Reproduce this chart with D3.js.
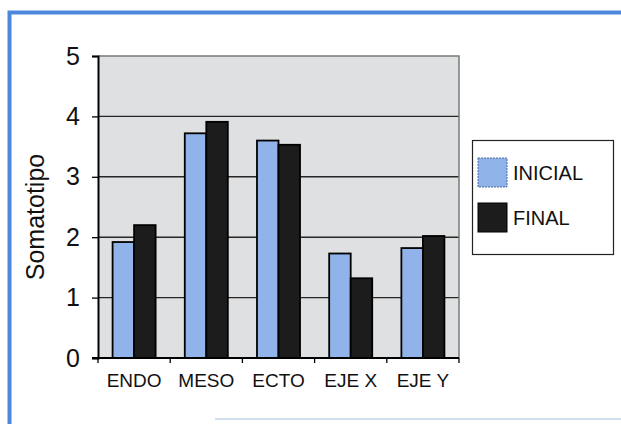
<!DOCTYPE html>
<html>
<head>
<meta charset="utf-8">
<script src="https://cdn.jsdelivr.net/npm/d3@7/dist/d3.min.js"></script>
<style>
  html, body { margin: 0; padding: 0; background: #ffffff; }
  svg { display: block; }
  text { font-family: "Liberation Sans", Arial, sans-serif; fill: #111; }
</style>
</head>
<body>
<script>
// Somatotype components, before and after
const categories = ["ENDO", "MESO", "ECTO", "EJE X", "EJE Y"];
const seriesNames = ["INICIAL", "FINAL"];
const inicial = [1.92, 3.72, 3.60, 1.73, 1.82];
const final = [2.20, 3.91, 3.53, 1.32, 2.02];
const yTicks = [0, 1, 2, 3, 4, 5];
const yTitle = "Somatotipo";

const W = 621, H = 424;
const plot = { left: 98, right: 459, top: 56, bottom: 358 };
const colors = { INICIAL: "#90b3ea", FINAL: "#1c1c1c" };

const svg = d3.select("body").append("svg")
  .attr("width", W).attr("height", H);

// outer frame
svg.append("rect").attr("width", W).attr("height", H).attr("fill", "#ffffff");
svg.append("path")
  .attr("d", `M9.5,${H} L9.5,12.5 L${W},12.5`)
  .attr("fill", "none").attr("stroke", "#4d87dc").attr("stroke-width", 4);
svg.append("line")
  .attr("x1", 215).attr("x2", W).attr("y1", 419).attr("y2", 419)
  .attr("stroke", "#d3dff0").attr("stroke-width", 2);

const y = d3.scaleLinear().domain([0, 5]).range([plot.bottom, plot.top]);
const x = d3.scaleBand().domain(categories)
  .range([plot.left, plot.right]).paddingInner(0.404).paddingOuter(0.202);
const xs = d3.scaleBand().domain(seriesNames).range([0, x.bandwidth()]);
const bounds = d3.scaleLinear().domain([0, categories.length]).range([plot.left, plot.right]);

// plot background
svg.append("rect")
  .attr("x", plot.left).attr("y", plot.top)
  .attr("width", plot.right - plot.left).attr("height", plot.bottom - plot.top)
  .attr("fill", "#dfe0e2");

// gridlines
svg.append("g").selectAll("line")
  .data(yTicks.filter(d => d > 0 && d < 5))
  .join("line")
  .attr("x1", plot.left).attr("x2", plot.right)
  .attr("y1", d => y(d)).attr("y2", d => y(d))
  .attr("stroke", "#262626").attr("stroke-width", 1.4);
// top and right frame of the plot area
svg.append("path")
  .attr("d", `M${plot.left},${y(5)} L${plot.right},${y(5)} L${plot.right},${plot.bottom}`)
  .attr("fill", "none").attr("stroke", "#7a7a7a").attr("stroke-width", 1.5);

// bars
const rows = categories.map((c, i) => ({ cat: c, INICIAL: inicial[i], FINAL: final[i] }));
const groups = svg.append("g").selectAll("g")
  .data(rows).join("g")
  .attr("transform", d => `translate(${x(d.cat)},0)`);
groups.selectAll("rect")
  .data(d => seriesNames.map(s => ({ s, v: d[s] })))
  .join("rect")
  .attr("x", d => xs(d.s))
  .attr("y", d => y(d.v))
  .attr("width", xs.bandwidth())
  .attr("height", d => y(0) - y(d.v))
  .attr("fill", d => colors[d.s])
  .attr("stroke", "#000").attr("stroke-width", 1.8);

// y axis
const yAxis = d3.axisLeft(y).tickValues(yTicks).tickSize(6).tickPadding(12).tickFormat(d3.format("d"));
const gy = svg.append("g").attr("transform", `translate(${plot.left},0)`).call(yAxis);
gy.select(".domain").attr("stroke", "#000").attr("stroke-width", 2);
gy.selectAll(".tick line").attr("stroke", "#000").attr("stroke-width", 1.3);
gy.selectAll(".tick text").attr("font-size", 25).attr("font-family", "Liberation Sans, Arial, sans-serif").attr("fill", "#111");

// x axis: baseline, boundary ticks and labels
const xAxis = d3.axisBottom(x).tickSize(0).tickPadding(16);
const gx = svg.append("g").attr("transform", `translate(0,${plot.bottom})`).call(xAxis);
gx.select(".domain").remove();
gx.selectAll(".tick text").attr("font-size", 19).attr("font-family", "Liberation Sans, Arial, sans-serif").attr("fill", "#111");
svg.append("line")
  .attr("x1", plot.left - 6).attr("x2", plot.right)
  .attr("y1", plot.bottom).attr("y2", plot.bottom)
  .attr("stroke", "#000").attr("stroke-width", 2);
svg.append("g").selectAll("line")
  .data(d3.range(categories.length + 1))
  .join("line")
  .attr("x1", d => bounds(d)).attr("x2", d => bounds(d))
  .attr("y1", plot.bottom).attr("y2", plot.bottom + 5)
  .attr("stroke", "#000").attr("stroke-width", 1.3);

// y title
svg.append("text")
  .attr("transform", `translate(44,${(plot.top + plot.bottom) / 2 + 10}) rotate(-90)`)
  .attr("text-anchor", "middle")
  .attr("font-size", 25)
  .text(yTitle);

// legend
const lg = svg.append("g").attr("transform", "translate(472,140)");
lg.append("rect").attr("x", 0.5).attr("y", 0.5).attr("width", 141).attr("height", 114)
  .attr("fill", "#ffffff").attr("stroke", "#222").attr("stroke-width", 1.2);
const items = lg.selectAll("g.item").data(seriesNames).join("g")
  .attr("class", "item")
  .attr("transform", (d, i) => `translate(6,${18 + i * 45})`);
items.append("rect")
  .attr("width", 29).attr("height", 29)
  .attr("fill", d => colors[d])
  .attr("stroke", d => d === "INICIAL" ? "#4c6aa0" : "#000")
  .attr("stroke-dasharray", d => d === "INICIAL" ? "2,1" : null)
  .attr("stroke-width", 1);
items.append("text")
  .attr("x", 35).attr("y", 22)
  .attr("font-size", 20)
  .text(d => d);
</script>
</body>
</html>
